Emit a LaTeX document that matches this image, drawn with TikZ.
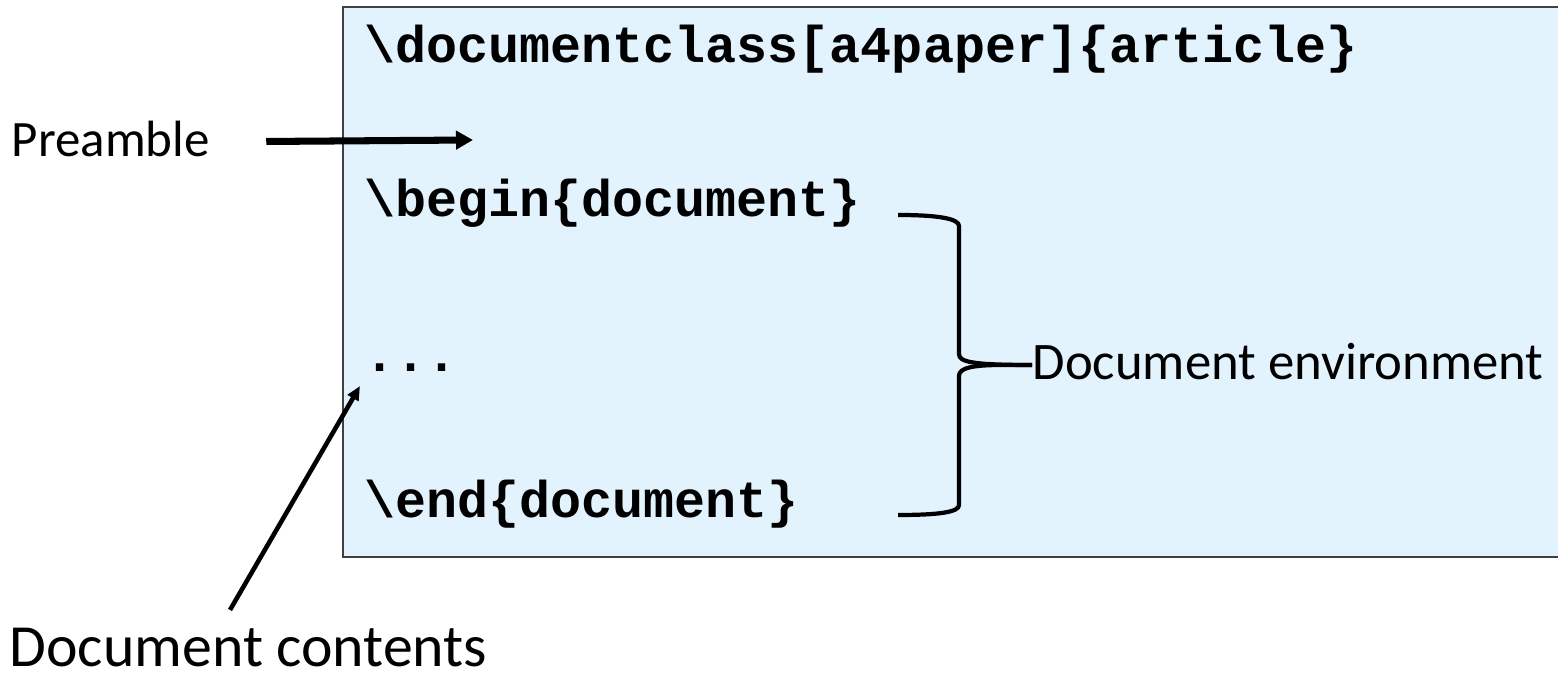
\documentclass[tikz,border=0pt]{standalone}
\usepackage{fontspec}
\setmainfont{Carlito}
\setmonofont{Liberation Mono}
\usetikzlibrary{calc}
\usetikzlibrary{arrows.meta}
\definecolor{codebg}{RGB}{226,243,254}
\tikzset{
	code/.style={
		anchor=base west,
		inner sep=0pt,
		font=\fontsize{14.7}{18}\selectfont\ttfamily\bfseries,
	},
	lbl/.style={
		anchor=base west,
		inner sep=0pt,
		font=\fontsize{15}{18}\selectfont,
	},
	codebox/.style={
		fill=codebg,
		draw=black!75,
		line width=0.6pt,
	},
	pointer/.style={
		line width=2pt,
		-{Triangle[length=0.17cm,width=0.18cm]}
	},
	thinpointer/.style={
		line width=1.3pt,
		-{Triangle[length=0.14cm,width=0.12cm]}
	},
	envbrace/.style={
		line width=1.2pt,
	},
}

\begin{document}
\begin{tikzpicture}[x=0.01cm,y=-0.01cm]
		\useasboundingbox (0,0) rectangle (1558,677);

		\draw[codebox] (343,7) rectangle (1600,557);

		\node[code] (cls) at (364,63) {\textbackslash documentclass[a4paper]\{article\}};
		\node[code] (beg) at (364,217) {\textbackslash begin\{document\}};
		\node[code] (dots) at (364,372) {...};
		\node[code] (fin) at (364,518) {\textbackslash end\{document\}};

		\node[lbl,font=\fontsize{14.5}{18}\selectfont] (pre) at (11,157) {Preamble};
		\node[lbl] (env) at (1032,380) {Document environment};
		\node[lbl,font=\fontsize{17}{20}\selectfont] (cont) at (9,667) {Document contents};

		\coordinate (pretip) at (473,140);
		\coordinate (dotstip) at (360,386);
		\coordinate (bracetop) at (898,215);
		\coordinate (bracebot) at (898,515);

		\draw[pointer] ($(pre.east)+(56,2)$) -- (pretip);
		\draw[thinpointer] ($(cont.north west)+(221,-18)$) -- (dotstip);

		% right brace round the document environment
		\draw[envbrace] (bracetop) .. controls (940,215) and (959,219) .. (959,226)
			-- (959,354) .. controls (959,362) and (972,365) .. (env.west |- 0,365)
			-- ++(-12,0);
		\draw[envbrace] (env.west |- 0,365) -- ++(-30,0)
			.. controls (972,365) and (959,368) .. (959,376)
			-- (959,505) .. controls (959,512) and (940,515) .. (bracebot);

	\end{tikzpicture}
\end{document}
